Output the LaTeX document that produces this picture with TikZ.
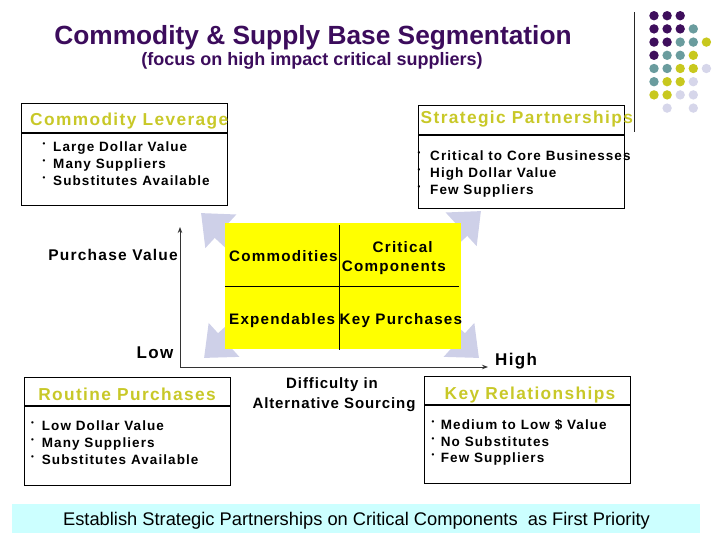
\documentclass[tikz,border=0pt]{standalone}
\usepackage{fontspec}
\setmainfont{Liberation Sans}
\newfontfamily\lsfont[LetterSpace=8]{Liberation Sans}
\newfontfamily\lsmfont[LetterSpace=6]{Liberation Sans}
\usetikzlibrary{arrows.meta}
\definecolor{titlepurple}{RGB}{60,12,92}
\definecolor{boxyellow}{RGB}{200,200,40}
\definecolor{dotpurple}{RGB}{62,14,92}
\definecolor{dotteal}{RGB}{106,156,158}
\definecolor{dotyellow}{RGB}{200,200,30}
\definecolor{dotlav}{RGB}{214,214,234}
\definecolor{arrowlav}{RGB}{206,208,232}
\definecolor{bannercyan}{RGB}{204,255,255}
\definecolor{matrixyellow}{RGB}{255,255,0}
\tikzset{
  boxframe/.style={draw=black, line width=1.1pt, inner sep=0pt, anchor=north west},
  boxtitle/.style={inner sep=0pt, text=boxyellow, font=\lsfont\bfseries\fontsize{17.3}{19}\selectfont},
  itemtext/.style={inner sep=0pt, anchor=base west, font=\lsfont\bfseries\fontsize{13.5}{15}\selectfont},
  itemdot/.style={inner sep=0pt, anchor=base west, font=\bfseries\fontsize{8}{9}\selectfont},
  celltext/.style={inner sep=0pt, font=\lsfont\bfseries\fontsize{15.2}{17}\selectfont},
  axislabel/.style={inner sep=0pt, font=\lsfont\bfseries\fontsize{15.5}{17}\selectfont},
  endlabel/.style={inner sep=0pt, font=\lsfont\bfseries\fontsize{17}{19}\selectfont},
  axisline/.style={draw=black!80, line width=1pt, -{Stealth[length=6pt,width=4.5pt]}},
  bigarrow/.style={draw=arrowlav, line width=18pt, -{Triangle[width=44pt,length=27pt]}},
}
\begin{document}
\begin{tikzpicture}[x=1pt,y=-1pt]
\useasboundingbox (0,0) rectangle (728,546);

% title
\node[inner sep=0pt, anchor=base, text=titlepurple, font=\bfseries\fontsize{26.3}{30}\selectfont] (title) at (313,44) {Commodity \& Supply Base Segmentation};
\node[inner sep=0pt, anchor=base, text=titlepurple, font=\bfseries\fontsize{18}{21}\selectfont] (subtitle) at (312,65) {(focus on high impact critical suppliers)};

% decoration: rule and dots
\draw[black!85, line width=1pt] (634.5,12) -- (634.5,132);
\foreach \c/\r/\col in {0/0/dotpurple,1/0/dotpurple,2/0/dotpurple,
  0/1/dotpurple,1/1/dotpurple,2/1/dotpurple,3/1/dotteal,
  0/2/dotpurple,1/2/dotpurple,2/2/dotteal,3/2/dotteal,4/2/dotyellow,
  0/3/dotpurple,1/3/dotteal,2/3/dotteal,3/3/dotyellow,
  0/4/dotteal,1/4/dotteal,2/4/dotyellow,3/4/dotyellow,4/4/dotlav,
  0/5/dotteal,1/5/dotyellow,2/5/dotyellow,3/5/dotlav,
  0/6/dotyellow,1/6/dotyellow,2/6/dotlav,3/6/dotlav,
  1/7/dotlav,3/7/dotlav}
  \fill[\col] ({654+13.1*\c},{15.7+13.2*\r}) circle (4.7);

% Commodity Leverage
\node[boxframe, minimum width=206pt, minimum height=102pt] (cl) at (21,103) {};
\draw[line width=1.1pt] ([yshift=-30pt]cl.north west) -- ([yshift=-30pt]cl.north east);
\node[boxtitle, anchor=base west] (cltitle) at (30,125.7) {Commodity Leverage};
\node[itemdot] (cld1) at (42.5,146.7) {•};
\node[itemtext] (clt1) at (53,151.7) {Large Dollar Value};
\node[itemdot] (cld2) at (42.5,163.3) {•};
\node[itemtext] (clt2) at (53,168.3) {Many Suppliers};
\node[itemdot] (cld3) at (42.5,180.7) {•};
\node[itemtext] (clt3) at (53,185.7) {Substitutes Available};

% Strategic Partnerships
\node[boxframe, minimum width=206pt, minimum height=103pt] (sp) at (418,105) {};
\draw[line width=1.1pt] ([yshift=-30pt]sp.north west) -- ([yshift=-30pt]sp.north east);
\node[boxtitle, anchor=base west] (sptitle) at (420.5,123.3) {Strategic Partnerships};
\node[itemdot] (spd1) at (417.5,155.7) {•};
\node[itemtext] (spt1) at (430,160.7) {Critical to Core Businesses};
\node[itemdot] (spd2) at (417.5,172.3) {•};
\node[itemtext] (spt2) at (430,177.3) {High Dollar Value};
\node[itemdot] (spd3) at (417.5,189) {•};
\node[itemtext] (spt3) at (430,194) {Few Suppliers};

% Routine Purchases
\node[boxframe, minimum width=206pt, minimum height=108pt] (rp) at (24.3,377.3) {};
\draw[line width=1.1pt] ([yshift=-28.7pt]rp.north west) -- ([yshift=-28.7pt]rp.north east);
\node[boxtitle, anchor=base] (rptitle) at (127,400.7) {Routine Purchases};
\node[itemdot] (rpd1) at (31,425.7) {•};
\node[itemtext] (rpt1) at (41.7,430.7) {Low Dollar Value};
\node[itemdot] (rpd2) at (31,442.3) {•};
\node[itemtext] (rpt2) at (41.7,447.3) {Many Suppliers};
\node[itemdot] (rpd3) at (31,459.3) {•};
\node[itemtext] (rpt3) at (41.7,464.3) {Substitutes Available};

% Key Relationships
\node[boxframe, minimum width=206pt, minimum height=107pt] (kr) at (424.3,376) {};
\draw[line width=1.1pt] ([yshift=-29pt]kr.north west) -- ([yshift=-29pt]kr.north east);
\node[boxtitle, anchor=base] (krtitle) at (530,399.3) {Key Relationships};
\node[itemdot] (krd1) at (431.5,424) {•};
\node[itemtext] (krt1) at (440.7,429) {Medium to Low \$ Value};
\node[itemdot] (krd2) at (431.5,441) {•};
\node[itemtext] (krt2) at (440.7,446) {No Substitutes};
\node[itemdot] (krd3) at (431.5,457.7) {•};
\node[itemtext] (krt3) at (440.7,462.7) {Few Suppliers};

% outward arrows (behind the matrix)
\coordinate (ulS) at (253,261); \coordinate (ulT) at (201,213);
\coordinate (llS) at (256,311); \coordinate (llT) at (204,358);
\coordinate (urS) at (429,259); \coordinate (urT) at (481,211);
\coordinate (lrS) at (427,311); \coordinate (lrT) at (479,358);
\draw[bigarrow] (ulS) -- (ulT);
\draw[bigarrow] (llS) -- (llT);
\draw[bigarrow] (urS) -- (urT);
\draw[bigarrow] (lrS) -- (lrT);

% matrix
\node[fill=matrixyellow, inner sep=0pt, anchor=north west, minimum width=236pt, minimum height=126pt] (mx) at (225,223) {};
\draw[line width=1pt] (339,225) -- (339,350);
\draw[line width=1pt] (225,286) -- (459,286);
\node[celltext, anchor=base west] (c11) at (229,261.7) {Commodities};
\node[celltext, anchor=base] (c12a) at (402.7,252.3) {Critical};
\node[celltext, anchor=base west] (c12b) at (341.7,271) {Components};
\node[celltext, anchor=base west] (c21) at (229,324) {Expendables};
\node[celltext, anchor=base west] (c22) at (339.5,324) {Key Purchases};

% axes
\coordinate (orig) at (180,367);
\coordinate (ytop) at (180,227);
\coordinate (xend) at (488,367);
\draw[axisline] (orig) -- (ytop);
\draw[axisline] (orig) -- (xend);
\node[axislabel, anchor=base east] (pv) at (178,260.7) {Purchase Value};
\node[endlabel, anchor=base east] (low) at (173.5,358.3) {Low};
\node[endlabel, anchor=base west] (high) at (495,365) {High};
\node[inner sep=0pt, anchor=base, font=\lsmfont\bfseries\fontsize{15}{17}\selectfont] (diff1) at (332,388.3) {Difficulty in};
\node[inner sep=0pt, anchor=base, font=\lsmfont\bfseries\fontsize{15}{17}\selectfont] (diff2) at (334,408.3) {Alternative Sourcing};

% banner
\node[fill=bannercyan, inner sep=0pt, anchor=north west, minimum width=688pt, minimum height=29pt] (banner) at (12,504) {};
\node[inner sep=0pt, anchor=base, font=\fontsize{18.3}{21}\selectfont] (bannertext) at (356.5,525.5) {Establish Strategic Partnerships on Critical Components\ \ as First Priority};
\end{tikzpicture}
\end{document}
